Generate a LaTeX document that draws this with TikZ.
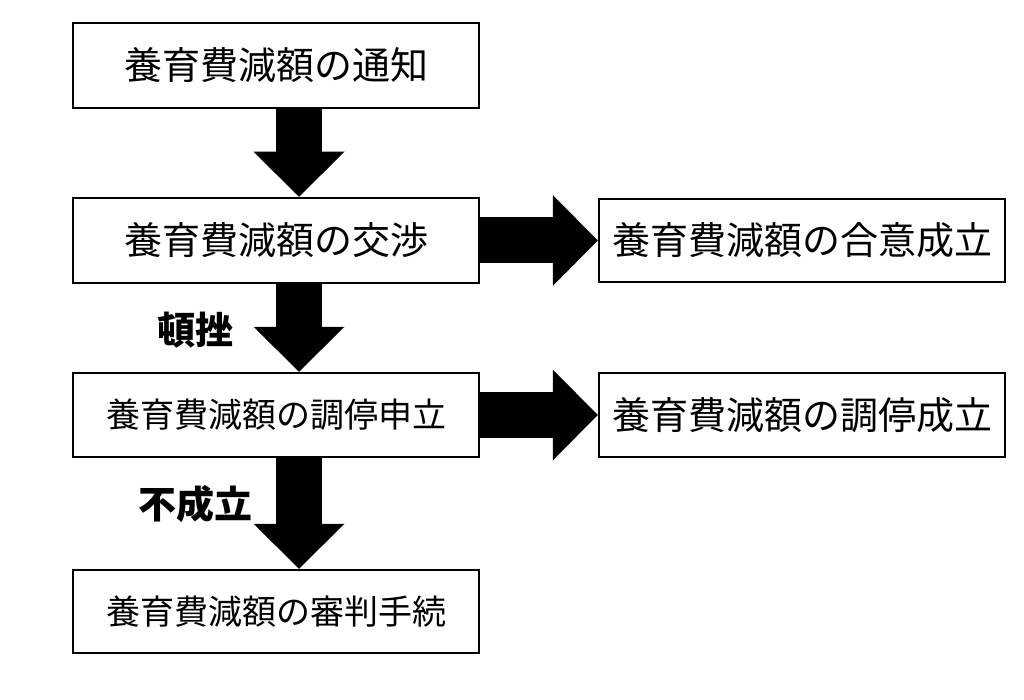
\documentclass[tikz,border=0pt]{standalone}
\usepackage{fontspec}
\setmainfont{Noto Sans CJK JP}
\usepackage{tikz}
\usetikzlibrary{arrows.meta,positioning}

\tikzset{
	flowbox/.style={draw, line width=2.5pt, minimum width=406pt, minimum height=84pt, inner sep=0pt, font=\fontsize{38}{41}\selectfont},
	smallbox/.style={flowbox, font=\fontsize{34}{37}\selectfont},
	fatarrow/.style={line width=46pt, -{Triangle[length=45pt, width=91pt, line width=0pt]}},
	steplabel/.style={font=\fontsize{38}{41}\selectfont\bfseries}
}

\begin{document}
\begin{tikzpicture}[x=1pt,y=-1pt]
			\useasboundingbox (0,0) rectangle (1024,700);
			
			\node[flowbox, minimum height=85pt] (notice) at (276,65.5) {養育費減額の通知};
			\node[flowbox, minimum height=85pt] (talk) at (276,240.5) {養育費減額の交渉};
			\node[flowbox, minimum height=83pt] (agree) at (802,240.5) {養育費減額の合意成立};
			\node[smallbox] (mediate) at (276,415) {養育費減額の調停申立};
			\node[flowbox] (settle) at (802,415) {養育費減額の調停成立};
			\node[smallbox, minimum height=83pt] (trial) at (276,611.5) {養育費減額の審判手続};
			
			\coordinate (ax) at (299,0);
			
			\draw[fatarrow] (notice.south -| ax) -- (talk.north -| ax);
			\draw[fatarrow] (talk.south -| ax) -- (mediate.north -| ax);
			\draw[fatarrow] (mediate.south -| ax) -- (trial.north -| ax);
			
			\draw[fatarrow] (talk.east) -- (agree.west);
			\draw[fatarrow] (mediate.east) -- (settle.west);
			
			\node[steplabel] (fail) at (195,330) {頓挫};
			\node[steplabel] (nodeal) at (195,504) {不成立};
			
\end{tikzpicture}
\end{document}
